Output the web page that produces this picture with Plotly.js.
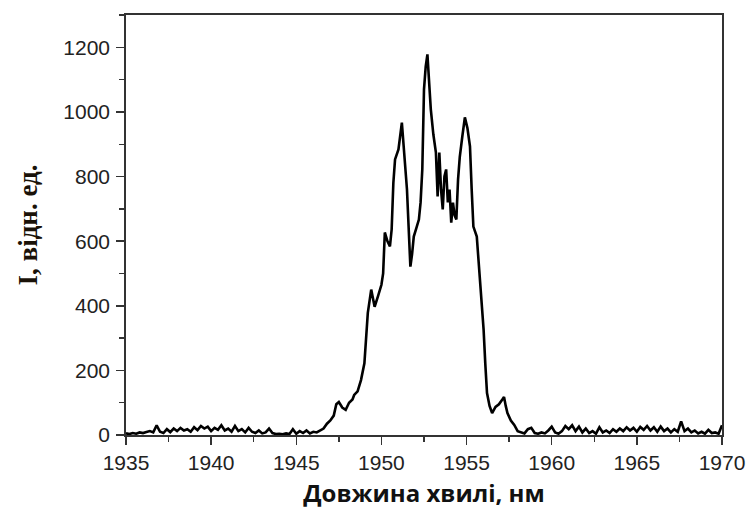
<!DOCTYPE html>
<html>
<head>
<meta charset="utf-8">
<script src="https://cdn.plot.ly/plotly-3.0.1.min.js"></script>
<style>html,body{margin:0;padding:0;background:#fff;}#chart{width:750px;height:512px;}</style>
</head>
<body>
<div id="chart"></div>
<script>
// Baseline noise left of the band (nm, intensity)
const leftWavelength = [1935.0,1935.2,1935.4,1935.6,1935.8,1936.0,1936.2,1936.4,1936.6,1936.8,1937.0,1937.2,1937.4,1937.6,1937.8,1938.0,1938.2,1938.4,1938.6,1938.8,1939.0,1939.2,1939.4,1939.6,1939.8,1940.0,1940.2,1940.4,1940.6,1940.8,1941.0,1941.2,1941.4,1941.6,1941.8,1942.0,1942.2,1942.4,1942.6,1942.8,1943.0,1943.2,1943.4,1943.6,1943.8,1944.0,1944.2,1944.4,1944.6,1944.8,1945.0,1945.2,1945.4,1945.6,1945.8,1946.0,1946.2,1946.4,1946.6,1946.8];
const leftIntensity = [5,3,6,4,8,6,9,12,8,30,10,6,18,9,20,12,22,14,18,10,24,15,28,20,26,12,22,16,30,14,20,10,28,12,18,8,22,10,6,14,5,8,20,6,3,4,2,5,3,18,4,12,6,14,5,10,8,14,20,35];

// Emission band
const bandWavelength = [1947.0,1947.2,1947.35,1947.5,1947.7,1947.9,1948.1,1948.3,1948.4,1948.6,1948.8,1949.0,1949.1,1949.2,1949.4,1949.5,1949.6,1949.8,1950.0,1950.1,1950.2,1950.35,1950.5,1950.6,1950.7,1950.8,1951.0,1951.2,1951.35,1951.5,1951.6,1951.7,1951.8,1951.9,1952.05,1952.2,1952.3,1952.4,1952.5,1952.6,1952.7,1952.8,1952.9,1953.05,1953.2,1953.3,1953.4,1953.5,1953.6,1953.7,1953.8,1953.9,1954.0,1954.1,1954.2,1954.3,1954.4,1954.5,1954.6,1954.75,1954.9,1955.05,1955.2,1955.3,1955.4,1955.6,1955.8,1956.0,1956.1,1956.2,1956.35,1956.5,1956.7,1956.9,1957.1,1957.2,1957.3,1957.4,1957.6,1957.8,1958.0];
const bandIntensity = [45,60,95,102,85,78,100,110,124,135,170,222,300,378,450,420,397,430,465,500,627,600,584,636,780,853,884,967,862,760,640,521,560,614,640,667,720,822,1070,1140,1178,1100,1008,930,874,738,874,760,698,800,822,720,760,657,719,680,667,791,860,924,983,950,893,760,645,614,470,326,220,130,90,68,87,95,110,118,90,68,45,31,12];

// Baseline noise right of the band
const rightWavelength = [1958.2,1958.4,1958.6,1958.8,1959.0,1959.2,1959.4,1959.6,1959.8,1960.0,1960.2,1960.4,1960.6,1960.8,1961.0,1961.2,1961.4,1961.6,1961.8,1962.0,1962.2,1962.4,1962.6,1962.8,1963.0,1963.2,1963.4,1963.6,1963.8,1964.0,1964.2,1964.4,1964.6,1964.8,1965.0,1965.2,1965.4,1965.6,1965.8,1966.0,1966.2,1966.4,1966.6,1966.8,1967.0,1967.2,1967.4,1967.6,1967.8,1968.0,1968.2,1968.4,1968.6,1968.8,1969.0,1969.2,1969.4,1969.6,1969.8,1970.0];
const rightIntensity = [8,5,18,22,6,4,8,5,14,26,8,4,12,28,18,30,12,26,8,20,6,12,4,24,8,14,6,18,10,20,12,24,14,22,10,25,16,28,14,24,10,26,12,20,8,18,10,42,12,20,8,14,5,10,4,16,6,8,4,30];

const xTickValues = [1935,1940,1945,1950,1955,1960,1965,1970];
const yTickValues = [0,200,400,600,800,1000,1200];

const xs = leftWavelength.concat(bandWavelength, rightWavelength);
const ys = leftIntensity.concat(bandIntensity, rightIntensity);

const trace = {
  x: xs, y: ys, type: 'scatter', mode: 'lines',
  line: {color: '#000', width: 2.6},
  hoverinfo: 'none'
};

const axisCommon = {
  showline: true, linecolor: '#333', linewidth: 1.8, mirror: true,
  ticks: 'outside', tickcolor: '#333', tickwidth: 1.5, ticklen: 8,
  showgrid: false, zeroline: false,
  tickfont: {family: 'Liberation Sans, Arial, sans-serif', size: 21, color: '#222'}
};

const layout = {
  width: 750, height: 512,
  margin: {l: 126, r: 28, t: 15, b: 77},
  paper_bgcolor: '#fff', plot_bgcolor: '#fff',
  showlegend: false,
  xaxis: Object.assign({}, axisCommon, {
    range: [1935, 1970], tickvals: xTickValues, ticktext: xTickValues.map(String),
    minor: {dtick: 2.5, tick0: 1935, ticks: 'outside', ticklen: 5, tickcolor: '#333', tickwidth: 1.3},
    ticklabelstandoff: 0,
    title: {text: '<b>Довжина хвилі, нм</b>', font: {family: 'Open Sans, Noto Sans, sans-serif', size: 24, color: '#111'}, standoff: 12}
  }),
  yaxis: Object.assign({}, axisCommon, {
    range: [0, 1300], tickvals: yTickValues, ticktext: yTickValues.map(String),
    minor: {dtick: 100, tick0: 0, ticks: 'outside', ticklen: 5, tickcolor: '#333', tickwidth: 1.3},
    ticklabelstandoff: 2,
    title: {text: '<b>I, відн. ед.</b>', font: {family: 'Liberation Serif, Times New Roman, serif', size: 27, color: '#1a1208'}, standoff: 18}
  })
};

Plotly.newPlot('chart', [trace], layout, {staticPlot: true, displayModeBar: false});
</script>
</body>
</html>
